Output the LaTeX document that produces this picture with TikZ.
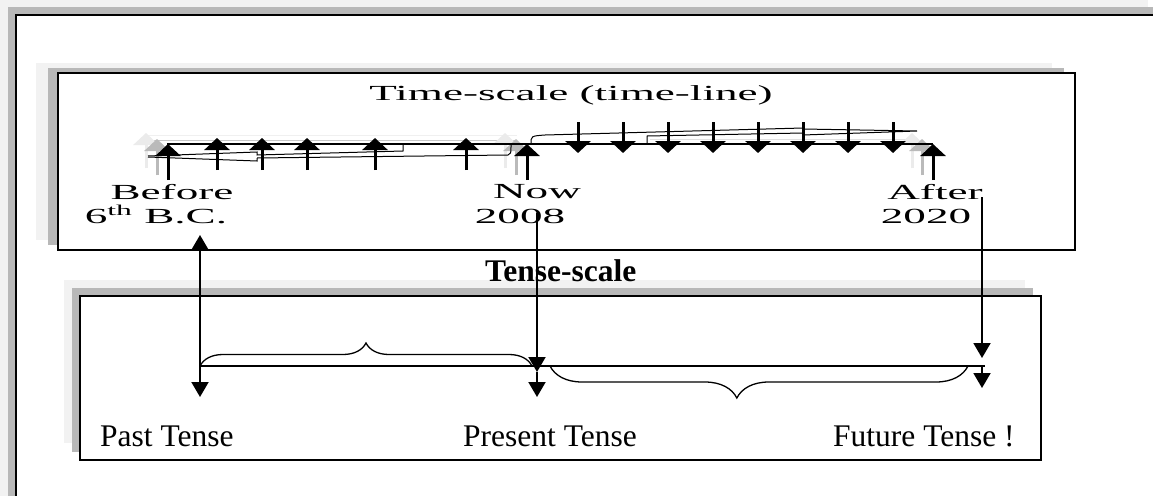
\documentclass[tikz,border=0pt]{standalone}
\usepackage{xcolor}
\usepackage{fontspec}
\setmainfont{Liberation Serif}
\usetikzlibrary{arrows.meta,decorations.pathreplacing}

\newcommand{\widetext}[1]{\scalebox{2.1}[1]{#1}}

\tikzset{
	farshade/.style={fill=black!5},
	nearshade/.style={fill=black!28},
	panel/.style={draw=black, fill=white, line width=1.5pt},
	timeword/.style={anchor=base, inner sep=0pt, font=\fontsize{21.5}{24}\selectfont},
	tenseword/.style={anchor=base west, inner sep=0pt, font=\fontsize{31.5}{36}\selectfont},
	tick/.style={line width=3pt, -{Triangle[width=25pt,length=12pt]}},
	farghost/.style={tick, black!8},
	nearghost/.style={tick, black!27},
	squiggle/.style={line width=1pt},
	link/.style={line width=2pt, -{Triangle[width=17pt,length=15pt]}},
	twolink/.style={line width=2pt, {Triangle[width=17pt,length=15pt]}-{Triangle[width=17pt,length=15pt]}},
	span/.style={line width=1.3pt, decorate, decoration={brace, #1}}
}

\begin{document}
\begin{tikzpicture}[x=1pt, y=-1pt]
	\useasboundingbox (0,0) rectangle (1153,495);
	\clip (0,0) rectangle (1153,495);

	% outer frame
	\fill[farshade] (0,0) rectangle (1148,500);
	\fill[nearshade] (8,7) rectangle (1160,500);
	\draw[panel] (16,15) rectangle (1170,510);

	% time-scale box
	\fill[farshade] (36,63) rectangle (1052,240);
	\fill[nearshade] (48,68) rectangle (1064,245);
	\draw[panel] (58,73) rectangle (1075,250);

	% tense-scale box
	\fill[farshade] (64,280) rectangle (1025,443);
	\fill[nearshade] (72,288) rectangle (1033,452);
	\draw[panel] (80,296) rectangle (1041,460);

	% labels
	\node[timeword] (title) at (571,100) {\widetext{Time-scale (time-line)}};
	\node[timeword] (before) at (172,199) {\widetext{Before}};
	\node[timeword] (beforeyear) at (156,223) {\widetext{6\textsuperscript{th} B.C.}};
	\node[timeword] (now) at (537,198) {\widetext{Now}};
	\node[timeword] (nowyear) at (520,223) {\widetext{2008}};
	\node[timeword] (after) at (935,199) {\widetext{After}};
	\node[timeword] (afteryear) at (926,223) {\widetext{2020}};

	\node[tenseword] (tensetitle) at (485,281) {\bfseries Tense-scale};
	\node[tenseword] (past) at (100,446) {Past Tense};
	\node[tenseword] (present) at (463,446) {Present Tense};
	\node[tenseword] (future) at (833,446) {Future Tense !};

	% time-line shadows
	\draw[black!6, line width=1pt] (146,135) -- (517,135);
	\draw[black!22, line width=1pt] (154,140) -- (516,140);
	\draw[black!12, line width=1pt] (650,139) -- (912,139);
	\draw[farghost] (146,168) -- (146,133);
	\draw[nearghost] (157,175) -- (157,139);
	\draw[farghost] (505,168) -- (505,133);
	\draw[nearghost] (516,175) -- (516,139);
	\draw[farghost] (912,168) -- (912,133);
	\draw[nearghost] (922,175) -- (922,139);

	% time-line
	\draw[line width=1.2pt] (167,144) -- (933,144);
	\draw[squiggle] (148,156) -- (257,152) -- (257,155) -- (403,151) -- (403,144);
	\draw[squiggle] (148,157) -- (257,161) -- (257,158);
	\draw[squiggle] (257,158) -- (508,155) .. controls (511,154) .. (511,144);
	\draw[squiggle] (531,144) .. controls (531,136) .. (545,135) -- (803,128) -- (803,135) -- (917,131) -- (803,129);
	\draw[squiggle] (647,144) -- (647,136) -- (803,133);

	% past
	\draw[tick] (168,180) -- (168,144);
	\draw[tick] (217,170) -- (217,138);
	\draw[tick] (262,170) -- (262,138);
	\draw[tick] (307,170) -- (307,138);
	\draw[tick] (375,170) -- (375,138);
	\draw[tick] (466,170) -- (466,138);
	\draw[tick] (527,180) -- (527,144);
	% future
	\draw[tick] (578,122) -- (578,153);
	\draw[tick] (623,122) -- (623,153);
	\draw[tick] (668,122) -- (668,153);
	\draw[tick] (713,122) -- (713,153);
	\draw[tick] (758,122) -- (758,153);
	\draw[tick] (803,122) -- (803,153);
	\draw[tick] (848,122) -- (848,153);
	\draw[tick] (893,122) -- (893,153);
	\draw[tick] (933,180) -- (933,144);

	% tense-scale
	\coordinate (pasttop) at (200,235);
	\coordinate (pastend) at (200,397);
	\coordinate (nowtop) at (537,213);
	\coordinate (nowmark) at (537,372);
	\coordinate (nowend) at (537,397);
	\coordinate (aftertop) at (982,197);
	\coordinate (aftermark) at (982,358);
	\coordinate (afterend) at (982,388);
	\coordinate (spanleft) at (200,366);
	\coordinate (spanright) at (985,366);

	\draw[line width=1.2pt] (spanleft) -- (spanright);
	\draw[span={amplitude=23pt}] (spanleft) -- (532,366);
	\draw[span={amplitude=32pt, aspect=0.553}] (968,366) -- (550,366);

	\draw[twolink] (pasttop) -- (pastend);
	\draw[link] (nowtop) -- (nowmark);
	\draw[link] (537,372) -- (nowend);
	\draw[link] (aftertop) -- (aftermark);
	\draw[link] (982,366) -- (afterend);
\end{tikzpicture}
\end{document}
